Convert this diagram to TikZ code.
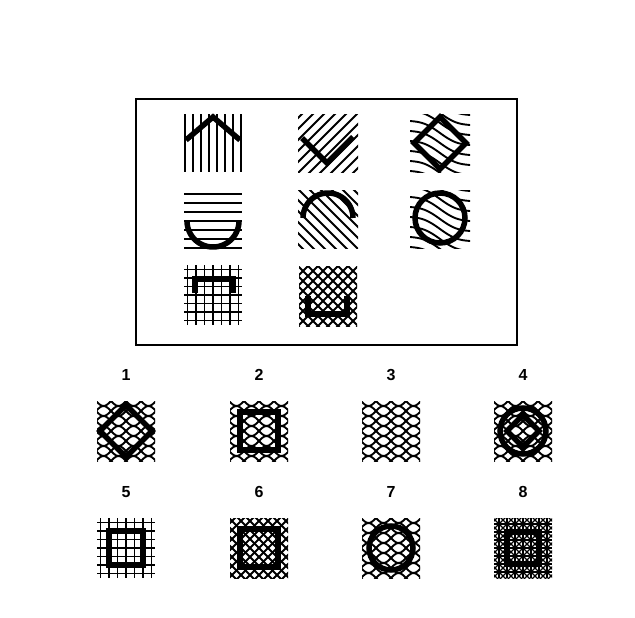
\documentclass[tikz,border=0pt]{standalone}
\usepackage{fontspec}
\setmainfont{Liberation Sans}
\usetikzlibrary{calc}

\tikzset{
  hatch/.style={line width=1.9pt},
  bold/.style={line width=5.5pt, line join=miter},
  num/.style={font=\bfseries\fontsize{16}{18}\selectfont}
}

% textures, clipped to a square round (#1,#2)
\newcommand{\vhatch}[2]{%
  \begin{scope}
    \clip (#1-30,#2-29) rectangle (#1+30,#2+29);
    \foreach \i in {0,...,7} \draw[hatch] (#1-28+8*\i,#2-29) -- ++(0,58);
  \end{scope}}
\newcommand{\hhatch}[2]{%
  \begin{scope}
    \clip (#1-29,#2-29) rectangle (#1+29,#2+29);
    \foreach \i in {0,...,6} \draw[hatch] (#1-29,#2-25+9*\i) -- ++(58,0);
  \end{scope}}
\newcommand{\rdiag}[2]{% lines like /
  \begin{scope}
    \clip (#1-30,#2-29) rectangle (#1+30,#2+29);
    \foreach \i in {-6,...,6} \draw[hatch] (#1+11*\i-35,#2+35) -- ++(70,-70);
  \end{scope}}
\newcommand{\ldiag}[2]{% lines like \
  \begin{scope}
    \clip (#1-30,#2-29) rectangle (#1+30,#2+29);
    \foreach \i in {-6,...,6} \draw[hatch] (#1+11*\i-35,#2-35) -- ++(70,70);
  \end{scope}}
\newcommand{\wavy}[2]{%
  \begin{scope}
    \clip (#1-30,#2-29) rectangle (#1+30,#2+29);
    \foreach \k in {-5,...,5}
      \draw[hatch] plot[domain=-36:36,samples=30,smooth] ({#1+\x},{#2+10*\k+0.4*\x+3*sin(6*\x)});
  \end{scope}}
\newcommand{\gridhatch}[3]{%
  \begin{scope}
    \clip (#1-29,#2-30) rectangle (#1+29,#2+30);
    \foreach \i in {-4,...,4} {
      \draw[hatch] (#1+#3*\i,#2-30) -- ++(0,60);
      \draw[hatch] (#1-29,#2+#3*\i) -- ++(58,0);
    }
  \end{scope}}
\newcommand{\crosshatch}[3]{%
  \begin{scope}
    \clip (#1-29,#2-30) rectangle (#1+29,#2+30);
    \foreach \i in {-7,...,7} {
      \draw[hatch] (#1+#3*\i-40,#2-40) -- ++(80,80);
      \draw[hatch] (#1+#3*\i+40,#2-40) -- ++(-80,80);
    }
  \end{scope}}
\newcommand{\curvednet}[2]{%
  \begin{scope}
    \clip (#1-29,#2-30) rectangle (#1+29,#2+30);
    \foreach \k in {-3,...,3} {
      \draw[hatch] plot[domain=-32:32,samples=30,smooth] ({#1+\x},{#2+10*\k+5*sin(12*\x)});
      \draw[hatch] plot[domain=-32:32,samples=30,smooth] ({#1+\x},{#2+10*\k-5*sin(12*\x)});
    }
  \end{scope}}

\begin{document}
\begin{tikzpicture}[x=1pt,y=-1pt]
\useasboundingbox (0,0) rectangle (635,618);

% the matrix
\draw[line width=2pt] (136,99) rectangle (517,345);

% row 1
\vhatch{213}{143}
\draw[bold] (186,140) -- (213,117) -- (240,140);
\rdiag{328}{143}
\draw[bold] (302,138) -- (327,163) -- (353,137);
\wavy{440}{143}
\draw[bold] (440,117) -- (466,143) -- (440,169) -- (414,143) -- cycle;

% row 2
\hhatch{213}{219}
\draw[bold] plot[domain=0:180,samples=40] ({213+26*cos(\x)},{221+26*sin(\x)});
\ldiag{328}{219}
\draw[bold] plot[domain=0:180,samples=40] ({328+25*cos(\x)},{218-25*sin(\x)});
\wavy{440}{219}
\draw[bold] (440,218) circle[radius=25pt];

% row 3
\gridhatch{213}{295}{8.5}
\draw[bold] (195,293) -- (195,279) -- (233,279) -- (233,293);
\crosshatch{328}{296}{10}
\draw[bold] (308,296) -- (308,314) -- (347,314) -- (347,296);

% answers
\node[num] (n1) at (126,375) {1};
\node[num] (n2) at (259,375) {2};
\node[num] (n3) at (391,375) {3};
\node[num] (n4) at (523,375) {4};
\node[num] (n5) at (126,492) {5};
\node[num] (n6) at (259,492) {6};
\node[num] (n7) at (391,492) {7};
\node[num] (n8) at (523,492) {8};

\curvednet{126}{431}
\draw[bold] (126,405) -- (152,431) -- (126,457) -- (100,431) -- cycle;
\curvednet{259}{431}
\draw[bold] (240,412) rectangle (278,450);
\curvednet{391}{431}
\curvednet{523}{431}
\draw[bold] (523,431) circle[radius=23pt];
\draw[bold] (523,415) -- (539,431) -- (523,447) -- (507,431) -- cycle;

\gridhatch{126}{548}{8.5}
\draw[bold] (109,531) rectangle (143,565);
\crosshatch{259}{548}{9}
\draw[bold] (240,529) rectangle (278,567);
\curvednet{391}{548}
\draw[bold] (391,548) circle[radius=22pt];
\begin{scope}[hatch/.style={line width=1.2pt}]
\gridhatch{523}{548}{8}
\crosshatch{523}{548}{8}
\end{scope}
\draw[bold] (507,532) rectangle (539,564);
\end{tikzpicture}
\end{document}
